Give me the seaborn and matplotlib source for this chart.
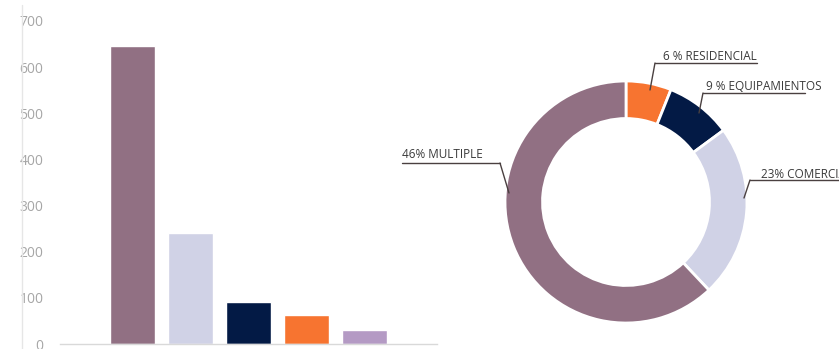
import matplotlib
matplotlib.use("Agg")
import matplotlib.pyplot as plt
from matplotlib.lines import Line2D
import seaborn as sns
import pandas as pd

# ---- data ----
categories = ["MULTIPLE", "COMERCIAL", "EQUIPAMIENTOS", "RESIDENCIAL", "OTROS"]
values = [645, 240, 92, 63, 30]
bar_colors = ["#917083", "#D0D2E6", "#031A45", "#F77430", "#B49AC4"]
y_ticks = [0, 100, 200, 300, 400, 500, 600, 700]

donut_values = [63, 92, 240, 645]
donut_colors = ["#F77430", "#031A45", "#D0D2E6", "#917083"]
donut_labels = ["6 % RESIDENCIAL", "9 % EQUIPAMIENTOS", "23% COMERCIAL", "46% MULTIPLE"]

sns.set_style("white")
plt.rcParams["font.family"] = ["Liberation Sans Narrow", "Open Sans", "DejaVu Sans"]

W, H = 839, 349
fig = plt.figure(figsize=(W / 100, H / 100), dpi=100)

def fx(x):
    return x / W

def fy(y):
    return 1 - y / H

# ---- bar chart ----
ax = fig.add_axes([fx(60), fy(344), fx(437) - fx(60), fy(21) - fy(344)])
df = pd.DataFrame({"cat": categories, "val": values})
sns.barplot(data=df, x="cat", y="val", hue="cat", palette=bar_colors,
            legend=False, width=0.776, saturation=1, ax=ax)
ax.set_xlim(-1.25, 5.25)
ax.set_ylim(0, 700)
ax.set_yticks(y_ticks)
ax.set_yticklabels([str(t) for t in y_ticks], color="#a6a6a6", fontsize=10)
ax.tick_params(axis="y", length=0, pad=12)
ax.set_xticks([])
ax.set_xlabel("")
ax.set_ylabel("")
for s in ["top", "right", "left"]:
    ax.spines[s].set_visible(False)
ax.spines["bottom"].set_color("#d9d9d9")
ax.spines["bottom"].set_linewidth(1)
fig.add_artist(Line2D([fx(22), fx(22)], [fy(5), fy(349)], color="#e6e6e6", lw=1))

# ---- donut ----
ax2 = fig.add_axes([fx(505), fy(323), fx(747) - fx(505), fy(81) - fy(323)])
ax2.pie(donut_values, colors=donut_colors, startangle=90, counterclock=False,
        radius=1, wedgeprops=dict(width=0.31, edgecolor="white", linewidth=2))
ax2.set_xlim(-1, 1)
ax2.set_ylim(-1, 1)
ax2.set_aspect("equal")
ax2.axis("off")

# labels: (text x, text y, underline x0, x1, underline y, leader end x, y)
label_pos = [
    (663, 57, 655, 757, 63, 650, 90),
    (706, 86, 703, 805, 93, 699, 113),
    (761, 174, 750, 845, 180, 744, 198),
    (402, 154, 402, 500, 163, 509, 193),
]
for txt, (tx, ty, u0, u1, uy, ex, ey) in zip(donut_labels, label_pos):
    fig.text(fx(tx), fy(ty), txt, ha="left", va="center", fontsize=8.5, color="#3a3a3a")
    fig.add_artist(Line2D([fx(u0), fx(u1)], [fy(uy), fy(uy)], color="#4a4040", lw=1))
    sx = u0 if ex < (u0 + u1) / 2 + 50 and tx > 600 else u1
    if tx < 600:
        sx = u1
    else:
        sx = u0
    fig.add_artist(Line2D([fx(sx), fx(ex)], [fy(uy), fy(ey)], color="#4a4040", lw=1))

fig.savefig("out.png", dpi=100)
